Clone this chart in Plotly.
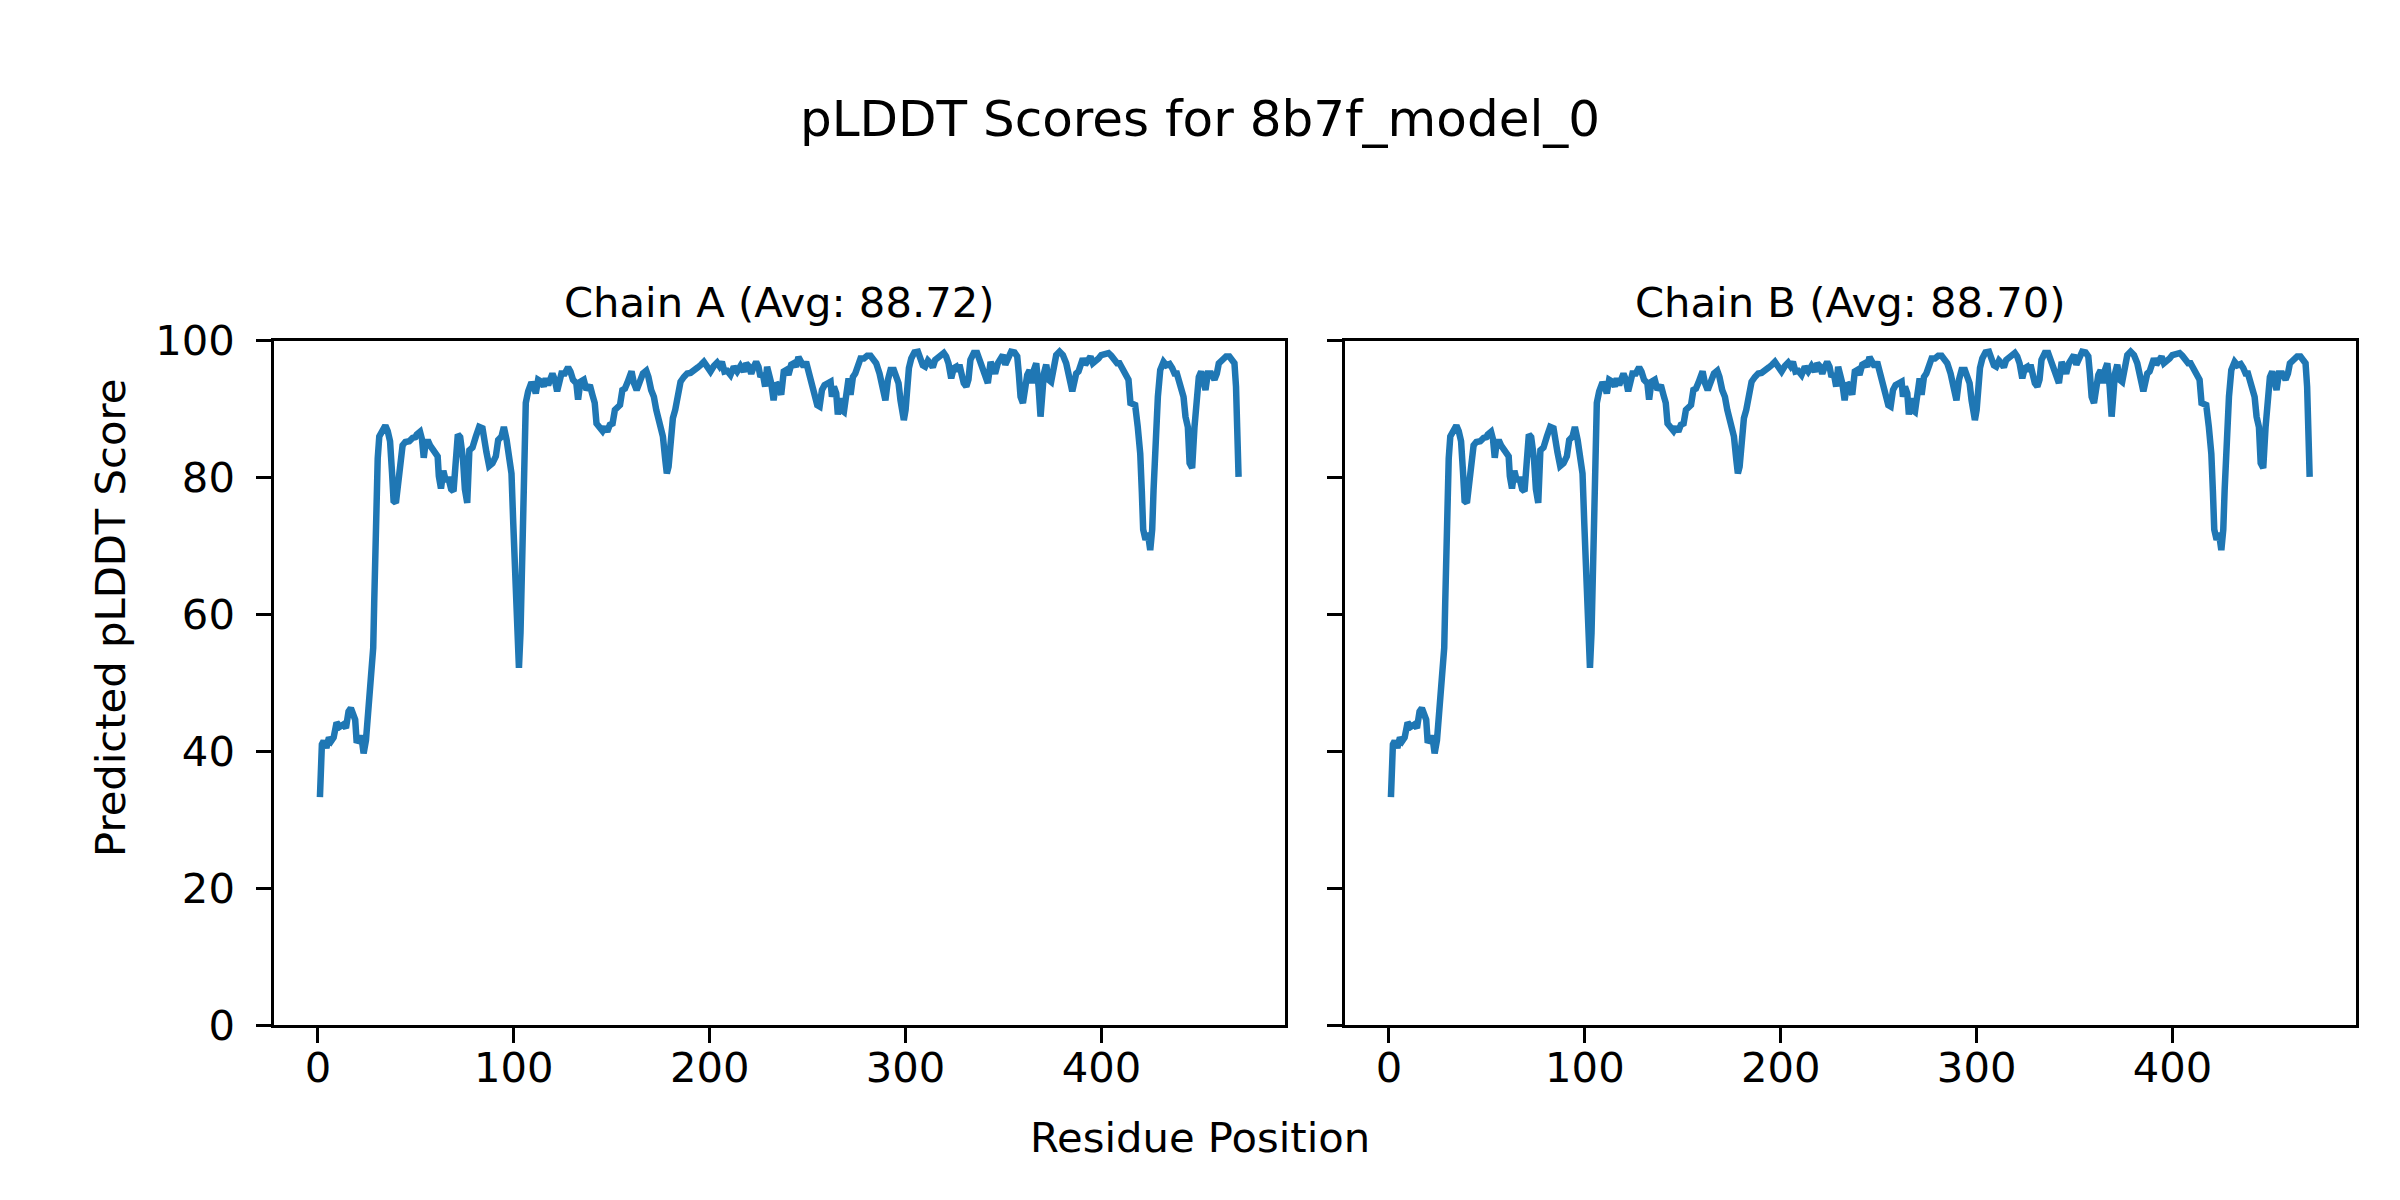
import plotly.graph_objects as go

# ---- data ----
chain_a_positions = [1.0, 2.0, 2.9, 4.3, 5.6, 6.8, 8.0, 9.5, 11.2, 12.9, 14.3, 15.6, 16.8, 18.0, 19.0, 19.7, 21.1, 22.1, 23.3, 24.5, 25.7, 26.7, 27.9, 28.2, 28.7, 29.3, 29.6, 30.5, 31.3, 32.7, 34.4, 35.6, 36.8, 37.8, 38.6, 39.8, 40.8, 41.9, 43.2, 44.6, 46.6, 48.3, 49.7, 50.4, 52.1, 53.1, 54.0, 54.8, 56.0, 57.2, 58.6, 59.9, 61.1, 61.7, 62.8, 64.0, 65.1, 66.8, 68.0, 69.2, 70.2, 71.4, 72.6, 74.0, 75.0, 76.2, 77.3, 78.9, 80.6, 82.3, 84.0, 85.2, 86.0, 87.4, 89.1, 90.8, 92.0, 93.7, 94.9, 96.3, 97.6, 98.8, 99.7, 100.9, 101.9, 102.6, 103.4, 104.3, 105.1, 106.1, 107.3, 109.0, 110.2, 111.2, 112.4, 114.1, 115.3, 116.3, 117.5, 118.7, 119.7, 120.9, 122.1, 123.1, 124.3, 126.0, 127.7, 128.9, 130.2, 131.9, 132.8, 134.0, 135.7, 137.1, 138.8, 140.1, 141.3, 142.2, 143.6, 145.3, 146.5, 147.7, 149.0, 150.4, 151.6, 152.8, 154.2, 155.4, 156.7, 157.9, 159.3, 160.1, 161.3, 162.7, 164.7, 165.9, 167.6, 168.7, 170.1, 171.5, 172.7, 174.4, 176.1, 177.3, 178.1, 179.0, 180.0, 181.2, 182.4, 183.7, 185.1, 186.8, 188.5, 190.2, 191.9, 193.9, 195.6, 197.0, 198.7, 200.4, 202.1, 203.8, 205.0, 206.2, 207.5, 208.9, 210.6, 212.3, 214.0, 215.7, 217.4, 218.6, 219.8, 221.2, 222.5, 223.7, 224.9, 225.9, 227.1, 228.3, 229.3, 230.5, 231.4, 232.6, 233.9, 235.1, 236.5, 237.8, 239.0, 240.2, 241.6, 242.9, 244.1, 245.3, 246.7, 248.0, 249.2, 250.4, 251.5, 253.2, 254.9, 256.1, 257.3, 258.6, 260.3, 261.7, 262.4, 263.4, 264.6, 265.4, 266.3, 267.1, 268.5, 269.7, 270.9, 271.9, 273.1, 274.3, 275.6, 277.0, 278.7, 280.4, 282.1, 283.5, 285.0, 286.7, 287.9, 288.9, 289.7, 291.0, 292.3, 294.0, 295.2, 296.4, 297.4, 298.3, 299.1, 300.0, 300.8, 301.7, 302.9, 304.5, 306.3, 307.6, 308.8, 310.0, 311.4, 312.7, 313.9, 315.1, 316.5, 318.2, 319.5, 320.7, 321.9, 323.3, 324.6, 325.8, 326.7, 327.5, 328.7, 329.7, 331.0, 332.1, 333.1, 334.8, 336.5, 338.3, 339.5, 340.6, 342.0, 343.4, 344.6, 345.7, 347.1, 348.5, 349.7, 350.9, 352.2, 353.9, 355.6, 357.0, 357.8, 358.7, 359.9, 361.1, 362.1, 363.3, 364.5, 365.5, 366.7, 367.9, 368.9, 369.7, 370.6, 371.8, 373.0, 374.3, 375.7, 376.9, 378.6, 380.3, 382.0, 383.2, 384.2, 385.1, 386.2, 387.1, 388.3, 389.3, 390.5, 391.7, 393.1, 394.4, 395.6, 396.8, 398.5, 399.9, 401.9, 403.6, 405.0, 406.7, 408.0, 409.2, 410.4, 411.4, 412.6, 413.8, 414.8, 416.0, 417.2, 418.5, 419.8, 420.6, 421.3, 422.5, 423.7, 424.9, 425.9, 426.6, 427.6, 428.8, 430.0, 431.7, 433.1, 434.8, 436.1, 437.3, 438.5, 439.9, 440.7, 441.9, 442.9, 444.1, 445.0, 446.3, 447.5, 448.7, 449.7, 450.9, 452.1, 453.1, 454.3, 456.0, 457.7, 458.9, 459.9, 461.6, 463.6, 465.3, 466.7, 467.9, 468.7, 469.6, 470.0]
chain_a_scores = [33.3, 41.0, 41.5, 40.5, 42.0, 41.5, 42.0, 44.2, 43.6, 43.9, 43.4, 45.8, 46.3, 44.9, 44.6, 41.6, 41.5, 42.3, 39.7, 41.6, 46.1, 49.3, 51.3, 55.1, 61.6, 69.3, 77.6, 82.8, 86.0, 86.9, 87.6, 86.8, 85.3, 80.8, 76.6, 76.3, 78.9, 82.8, 84.7, 85.2, 85.3, 85.8, 85.9, 86.3, 86.7, 85.6, 82.9, 84.7, 85.5, 84.7, 84.2, 83.7, 83.1, 80.2, 78.4, 81.0, 79.7, 79.7, 78.3, 78.0, 82.8, 86.3, 85.9, 82.8, 78.3, 76.3, 84.0, 84.4, 86.0, 87.4, 87.2, 84.0, 83.7, 81.7, 82.1, 83.1, 85.5, 86.0, 87.4, 85.5, 83.5, 80.6, 73.3, 63.6, 54.8, 52.2, 57.3, 70.9, 83.1, 90.9, 92.6, 93.9, 93.3, 92.3, 94.3, 94.0, 93.3, 94.5, 93.5, 94.5, 95.2, 94.3, 92.6, 93.8, 95.2, 95.2, 96.1, 95.5, 94.3, 93.8, 91.4, 94.0, 94.3, 92.8, 93.5, 92.1, 90.9, 87.9, 87.2, 86.8, 87.4, 86.7, 87.7, 87.9, 89.9, 90.4, 90.6, 92.8, 93.0, 93.8, 95.2, 95.5, 93.8, 92.8, 94.3, 95.2, 95.6, 94.7, 92.8, 91.8, 89.9, 87.9, 86.0, 82.6, 80.6, 81.6, 85.5, 88.7, 89.9, 92.6, 94.0, 94.7, 95.2, 95.3, 95.8, 96.1, 96.5, 96.9, 96.2, 95.5, 96.3, 96.8, 96.3, 96.9, 95.5, 95.6, 95.0, 96.2, 95.5, 96.3, 95.5, 96.7, 96.3, 95.2, 96.2, 96.9, 96.2, 94.7, 95.2, 93.3, 96.2, 95.2, 93.8, 91.3, 93.8, 93.5, 92.1, 95.5, 95.7, 95.0, 96.5, 96.7, 96.2, 97.6, 96.9, 96.2, 96.9, 95.5, 94.7, 92.3, 90.6, 90.4, 92.8, 93.5, 93.8, 94.0, 91.8, 93.3, 92.3, 89.2, 91.6, 89.9, 89.6, 91.8, 94.5, 92.1, 94.7, 95.2, 96.0, 97.4, 97.4, 97.8, 97.8, 97.4, 96.7, 95.2, 93.8, 91.8, 91.3, 94.3, 95.7, 95.7, 95.0, 93.8, 91.3, 88.9, 88.4, 89.9, 93.3, 96.0, 97.4, 98.3, 98.4, 97.4, 96.4, 96.2, 97.1, 96.7, 96.1, 97.2, 97.4, 97.9, 98.2, 97.7, 96.7, 94.5, 96.0, 96.2, 95.5, 96.5, 95.0, 93.8, 93.3, 94.3, 97.2, 98.2, 98.2, 96.7, 95.2, 94.5, 93.8, 96.9, 95.5, 95.2, 96.7, 97.2, 97.9, 96.5, 97.2, 98.4, 98.3, 97.7, 95.2, 91.8, 90.9, 93.8, 95.0, 95.7, 93.8, 95.7, 96.7, 93.3, 88.9, 91.8, 95.2, 96.5, 94.3, 94.0, 96.2, 97.9, 98.4, 97.9, 96.7, 95.5, 93.8, 92.6, 93.8, 95.2, 95.5, 96.2, 97.4, 96.5, 97.2, 97.7, 96.7, 96.9, 97.4, 97.9, 98.2, 98.2, 97.8, 97.2, 96.7, 96.7, 96.0, 95.5, 95.2, 94.3, 90.9, 90.6, 90.6, 87.5, 83.5, 78.0, 72.4, 70.9, 71.9, 69.4, 72.4, 78.2, 87.0, 91.8, 95.7, 96.9, 96.4, 96.6, 96.0, 95.2, 95.2, 93.8, 92.8, 91.8, 88.9, 87.4, 82.1, 81.4, 87.4, 90.9, 94.7, 95.5, 94.3, 92.8, 95.2, 95.2, 94.3, 95.2, 96.7, 97.2, 97.7, 97.7, 97.2, 96.7, 93.3, 87.0, 80.1]

# Chain B reads the same as chain A at this resolution
chain_b_positions = list(chain_a_positions)
chain_b_scores = list(chain_a_scores)

chain_titles = ["Chain A (Avg: 88.72)", "Chain B (Avg: 88.70)"]
y_ticks = [0, 20, 40, 60, 80, 100]
x_ticks = [0, 100, 200, 300, 400]

W, H = 2400, 1200
FONT = "DejaVu Sans"
LINE_COLOR = "#1f77b4"
TICK_FS = 41.7
TITLE_FS = 50

fig = go.Figure()
fig.add_trace(go.Scatter(x=chain_a_positions, y=chain_a_scores, mode="lines",
                         line=dict(color=LINE_COLOR, width=6.5), xaxis="x", yaxis="y",
                         showlegend=False, hoverinfo="x+y"))
fig.add_trace(go.Scatter(x=chain_b_positions, y=chain_b_scores, mode="lines",
                         line=dict(color=LINE_COLOR, width=6.5), xaxis="x2", yaxis="y2",
                         showlegend=False, hoverinfo="x+y"))

axA = (274 / W, 1284.5 / W)
axB = (1345 / W, 2355.6 / W)
ydom = (1 - 1025 / H, 1 - 340.7 / H)

common_axis = dict(
    showline=True, linecolor="black", linewidth=3.3, mirror=True,
    ticks="outside", ticklen=14.6, tickwidth=3.3, tickcolor="black",
    showgrid=False, zeroline=False, automargin=False,
    tickfont=dict(family=FONT, size=TICK_FS, color="black"),
)

xrange = [-22.45, 493.45]
fig.update_layout(
    width=W, height=H,
    margin=dict(l=0, r=0, t=0, b=0, pad=0, autoexpand=False),
    paper_bgcolor="white", plot_bgcolor="white",
    font=dict(family=FONT, color="black"),
    xaxis=dict(domain=list(axA), range=xrange, tickvals=x_ticks, anchor="y",
               ticklabelstandoff=-11, **common_axis),
    yaxis=dict(domain=list(ydom), range=[0, 100], tickvals=y_ticks, anchor="x",
               ticklabelstandoff=13, **common_axis),
    xaxis2=dict(domain=list(axB), range=xrange, tickvals=x_ticks, anchor="y2",
                ticklabelstandoff=-11, **common_axis),
    yaxis2=dict(domain=list(ydom), range=[0, 100], tickvals=y_ticks, anchor="x2",
                showticklabels=False, **common_axis),
)

annotations = [
    dict(text="pLDDT Scores for 8b7f_model_0", x=0.5, y=1 - 119 / H, xref="paper", yref="paper",
         xanchor="center", yanchor="middle", showarrow=False,
         font=dict(family=FONT, size=TITLE_FS, color="black")),
    dict(text=chain_titles[0], x=(axA[0] + axA[1]) / 2, y=1 - 303 / H, xref="paper", yref="paper",
         xanchor="center", yanchor="middle", showarrow=False,
         font=dict(family=FONT, size=TICK_FS, color="black")),
    dict(text=chain_titles[1], x=(axB[0] + axB[1]) / 2, y=1 - 303 / H, xref="paper", yref="paper",
         xanchor="center", yanchor="middle", showarrow=False,
         font=dict(family=FONT, size=TICK_FS, color="black")),
    dict(text="Residue Position", x=0.5, y=1 - 1137 / H, xref="paper", yref="paper",
         xanchor="center", yanchor="middle", showarrow=False,
         font=dict(family=FONT, size=TICK_FS, color="black")),
    dict(text="Predicted pLDDT Score", x=110 / W, y=1 - 618 / H, xref="paper", yref="paper",
         xanchor="center", yanchor="middle", showarrow=False, textangle=-90,
         font=dict(family=FONT, size=TICK_FS, color="black")),
]
fig.update_layout(annotations=annotations)

fig.write_html("out.html",
               config={"displayModeBar": False},
               post_script="document.body.style.margin='0';document.body.style.padding='0';"
                           "document.body.style.overflow='hidden';")
